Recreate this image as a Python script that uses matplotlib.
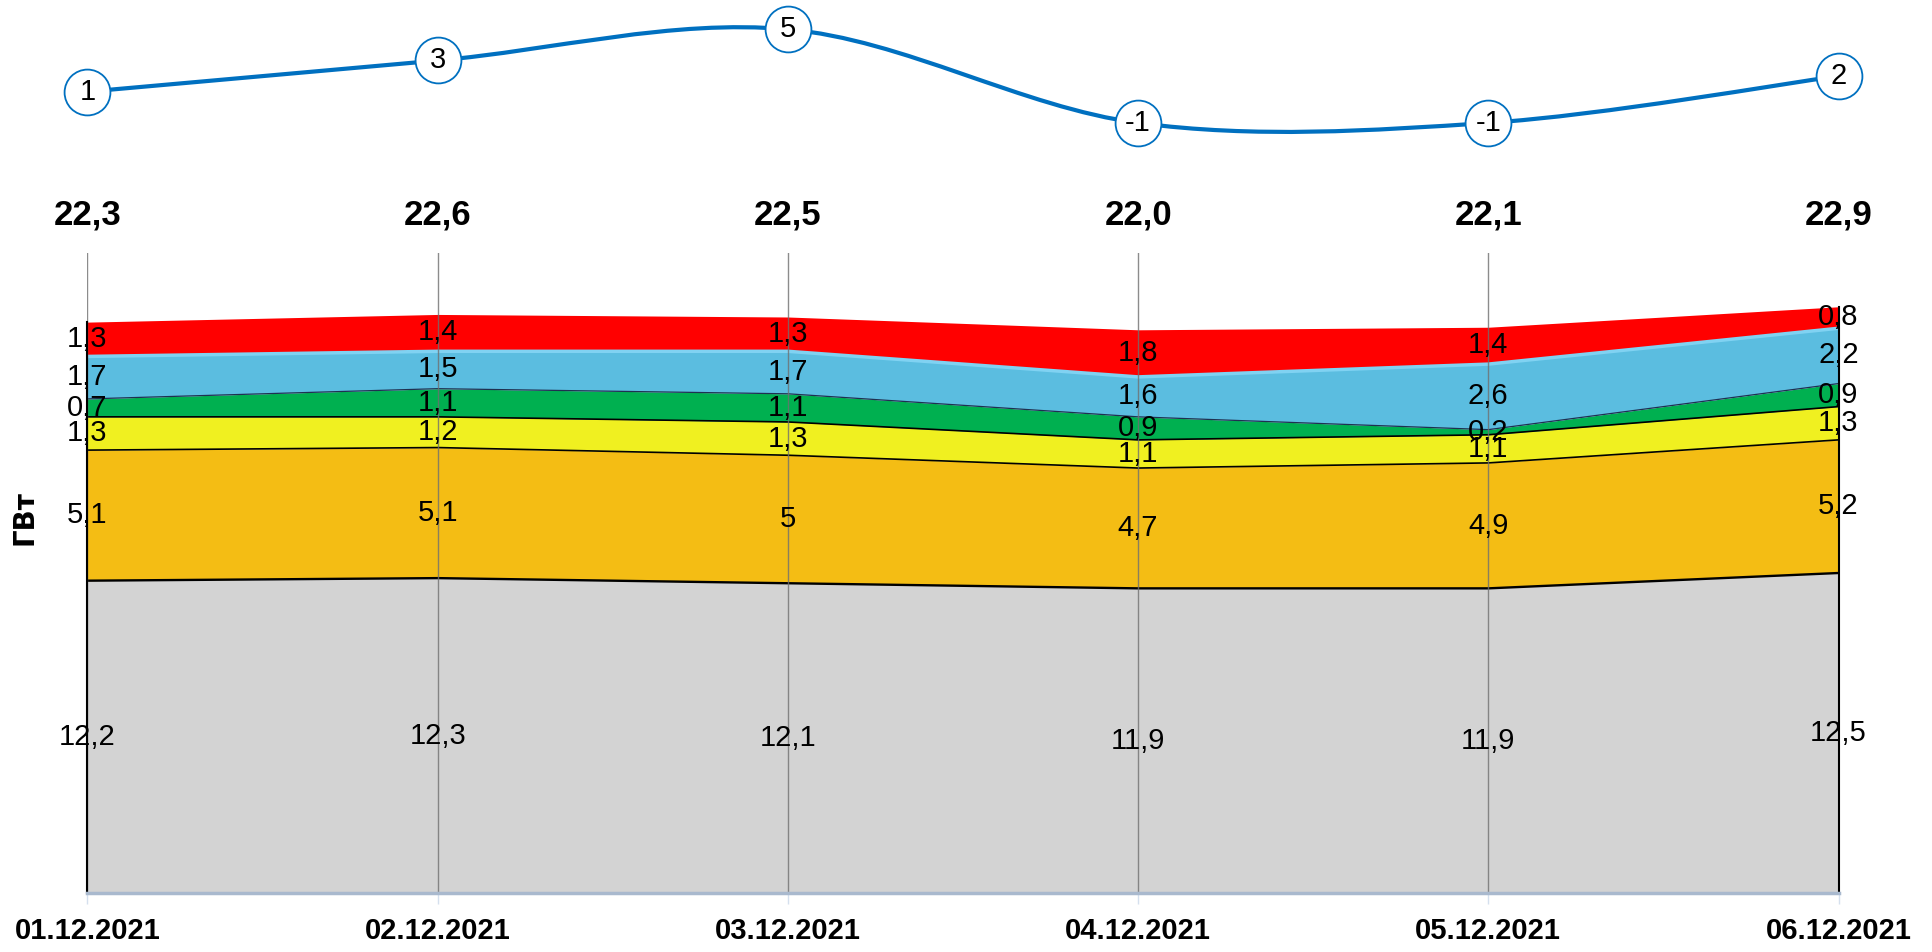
import matplotlib
matplotlib.use("Agg")
import matplotlib.pyplot as plt
from matplotlib.path import Path
from matplotlib.patches import PathPatch
import numpy as np

dates = ["01.12.2021", "02.12.2021", "03.12.2021", "04.12.2021", "05.12.2021", "06.12.2021"]
gray = [12.2, 12.3, 12.1, 11.9, 11.9, 12.5]
orange = [5.1, 5.1, 5.0, 4.7, 4.9, 5.2]
yellow = [1.3, 1.2, 1.3, 1.1, 1.1, 1.3]
green = [0.7, 1.1, 1.1, 0.9, 0.2, 0.9]
blue = [1.7, 1.5, 1.7, 1.6, 2.6, 2.2]
red = [1.3, 1.4, 1.3, 1.8, 1.4, 0.8]
change = [1, 3, 5, -1, -1, 2]

layers = [gray, orange, yellow, green, blue, red]
colors = ["#D3D3D3", "#F4BD14", "#F0F020", "#00B050", "#5BBDE0", "#FF0000"]
edge_colors = ["black", "black", "black", "#1F3050", None, None]
edge_widths = [1.7, 1.2, 1.2, 0.9, 0, 0]

VAL_FONT = ["Liberation Sans", "DejaVu Sans"]


def fmt(v):
    return ("%g" % v).replace(".", ",")


fig = plt.figure(figsize=(19.33, 9.52), dpi=100)
W, H = 1933, 952
left, right = 87.5 / W, 1838.5 / W
ax = fig.add_axes([left, (H - 893) / H, right - left, (893 - 253) / H])

x = np.arange(len(dates))
base = np.zeros(len(dates))
for i, (vals, c) in enumerate(zip(layers, colors)):
    top = base + np.array(vals)
    ax.fill_between(x, base, top, color=c, linewidth=0, zorder=1)
    if edge_colors[i]:
        ax.plot(x, top, color=edge_colors[i], lw=edge_widths[i], zorder=3)
    if i == 4:
        ax.plot(x, top - 0.04, color="#80D2F2", lw=2.5, zorder=2)
    for xi, b, v in zip(x, base, vals):
        ax.text(xi, b + v / 2, fmt(v), ha="center", va="center", fontsize=21,
                family=VAL_FONT, zorder=6)
    base = top

totals = [round(sum(v), 1) for v in zip(*layers)]

# grid and side edges
for xi in x:
    ax.axvline(xi, color="#707070", lw=1, alpha=0.8, zorder=4)
ax.plot([0, 0], [0, totals[0]], color="black", lw=1.5, zorder=5, clip_on=False)
ax.plot([5, 5], [0, totals[-1]], color="black", lw=1.5, zorder=5, clip_on=False)

for xi, t in zip(x, totals):
    ax.text(xi, 26.5, ("%.1f" % t).replace(".", ","), ha="center", va="center",
            fontsize=25, fontweight="bold", family=VAL_FONT)

ax.set_xlim(0, 5)
ax.set_ylim(0, 25)
ax.set_yticks([])
for s in ["left", "right", "top"]:
    ax.spines[s].set_visible(False)
ax.spines["bottom"].set_color("#A9B9CE")
ax.spines["bottom"].set_linewidth(2.5)
ax.spines["bottom"].set_zorder(7)
ax.set_xticks(x)
ax.set_xticklabels(dates, fontsize=21, fontweight="bold", family=VAL_FONT)
ax.tick_params(axis="x", direction="out", length=8, width=1, color="#D5E0EE", pad=9)

fig.text(25 / W, 1 - 518 / H, "ГВт", rotation=90, ha="center", va="center",
         fontsize=20, fontweight="bold", family=["Liberation Sans Narrow", "DejaVu Sans"])

# top line chart with smoothed curve
ax2 = fig.add_axes([left, (H - 150) / H, right - left, 150 / H])
ax2.set_xlim(0, 5)
ax2.set_ylim((107.3 - 150) / 15.6, 107.3 / 15.6)
ax2.axis("off")

pts = np.column_stack([x, change]).astype(float)
ext = np.vstack([pts[0], pts, pts[-1]])
verts = [tuple(pts[0])]
codes = [Path.MOVETO]
for i in range(len(pts) - 1):
    p0, p1, p2, p3 = ext[i], ext[i + 1], ext[i + 2], ext[i + 3]
    c1 = p1 + (p2 - p0) / 6
    c2 = p2 - (p3 - p1) / 6
    verts += [tuple(c1), tuple(c2), tuple(p2)]
    codes += [Path.CURVE4] * 3
ax2.add_patch(PathPatch(Path(verts, codes), facecolor="none", edgecolor="#0070C0",
                        lw=3, clip_on=False, zorder=2))
ax2.plot(x, change, linestyle="none", marker="o", markersize=33, markerfacecolor="white",
         markeredgecolor="#0070C0", markeredgewidth=1.3, clip_on=False, zorder=3)
for xi, v in zip(x, change):
    ax2.text(xi, v, str(v), ha="center", va="center", fontsize=21, family=VAL_FONT, zorder=4)

fig.savefig("out.png", dpi=100)
